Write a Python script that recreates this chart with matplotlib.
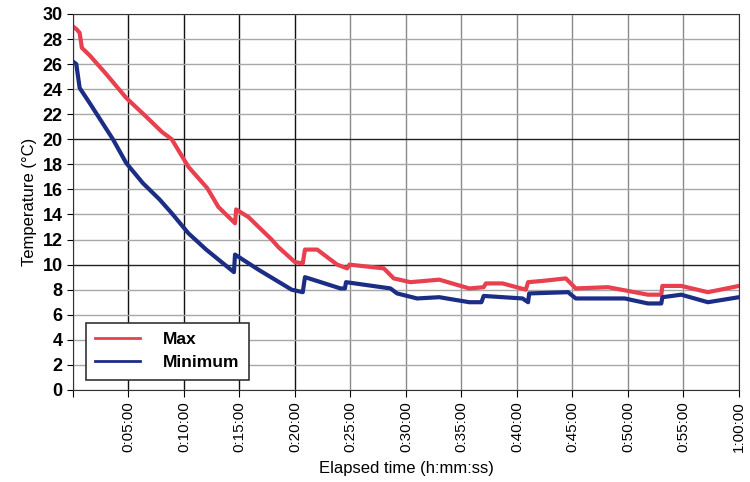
import matplotlib
matplotlib.use("Agg")
import matplotlib.pyplot as plt
from matplotlib.ticker import FuncFormatter

plt.rcParams['font.family'] = ['Liberation Sans', 'DejaVu Sans']

# elapsed minutes / temperature (degC)
max_t = [0.0, 0.3, 0.6, 0.8, 1.5, 3.0, 4.8, 6.6, 8.0, 8.9, 10.4, 12.1, 13.1, 14.6,
         14.7, 15.8, 17.9, 18.5, 20.0, 20.7, 20.9, 22.0, 23.8, 24.7, 24.9, 28.0,
         28.9, 30.4, 33.0, 35.7, 37.0, 37.2, 38.7, 40.8, 41.0, 42.3, 44.4, 45.3,
         48.2, 51.8, 53.0, 53.1, 54.8, 57.2, 60.0]
max_v = [29.0, 28.8, 28.5, 27.3, 26.7, 25.2, 23.3, 21.8, 20.6, 20.0, 17.8, 16.1, 14.6, 13.3,
         14.4, 13.8, 12.0, 11.4, 10.2, 10.1, 11.2, 11.2, 10.0, 9.7, 10.0, 9.7,
         8.9, 8.6, 8.8, 8.1, 8.2, 8.5, 8.5, 8.0, 8.6, 8.7, 8.9, 8.1,
         8.2, 7.6, 7.6, 8.3, 8.3, 7.8, 8.3]

min_t = [0.0, 0.3, 0.6, 1.5, 3.6, 4.8, 6.3, 7.8, 8.9, 10.4, 12.0, 14.5, 14.6, 16.7,
         19.7, 20.7, 20.9, 24.1, 24.5, 24.6, 28.6, 29.2, 31.0, 33.0, 35.7, 36.8,
         37.0, 40.5, 41.0, 41.1, 44.6, 45.3, 49.7, 51.8, 53.0, 53.1, 54.8, 57.2, 60.0]
min_v = [26.2, 26.0, 24.1, 22.9, 20.0, 18.1, 16.5, 15.2, 14.1, 12.5, 11.2, 9.4, 10.8, 9.6,
         8.0, 7.8, 9.0, 8.1, 8.1, 8.6, 8.1, 7.7, 7.3, 7.4, 7.0, 7.0,
         7.5, 7.3, 7.0, 7.7, 7.8, 7.3, 7.3, 6.9, 6.9, 7.4, 7.6, 7.0, 7.4]

fig = plt.figure(figsize=(7.5, 4.82), dpi=100)
ax = fig.add_axes([0.0973, 0.191, 0.888, 0.780])

ax.plot(max_t, max_v, color='#e8404f', lw=3, label='Max')
ax.plot(min_t, min_v, color='#1c2d85', lw=3, label='Minimum')

ax.set_xlim(0, 60)
ax.set_ylim(0, 30)
ax.set_xticks(range(0, 61, 5))
ax.set_yticks(range(0, 31, 2))

def hms(x, pos):
    m = int(round(x))
    if m == 0:
        return ''
    return '%d:%02d:00' % (m // 60, m % 60)

ax.xaxis.set_major_formatter(FuncFormatter(hms))
ax.tick_params(axis='x', labelrotation=90, labelsize=11, length=5, direction='out')
ax.tick_params(axis='y', labelsize=13, length=4, direction='out')
for lab in ax.get_yticklabels():
    lab.set_fontweight('bold')

ax.grid(True, lw=1.0)
for loc, g in zip(ax.get_xticks(), ax.get_xgridlines()):
    g.set_color('#111111' if 5 <= loc <= 20 else '#8a8a8a')
for loc, g in zip(ax.get_yticks(), ax.get_ygridlines()):
    g.set_color('#222222' if loc in (10, 20) else '#a8a8a8')
ax.set_axisbelow(True)

for s in ax.spines.values():
    s.set_color('#333333')

ax.set_ylabel('Temperature (°C)', fontsize=12, labelpad=4)
ax.set_xlabel('Elapsed time (h:mm:ss)', fontsize=12, labelpad=6)

leg = ax.legend(loc='lower left', bbox_to_anchor=(0.019, 0.027), borderaxespad=0,
                prop={'size': 12.5, 'weight': 'bold'},
                fancybox=False, framealpha=1, edgecolor='#333333',
                handlelength=2.6, handletextpad=1.3, borderpad=0.55, labelspacing=0.45)
leg.get_frame().set_linewidth(1.2)
for h in leg.get_lines():
    h.set_linewidth(2)

fig.savefig('out.png', dpi=100)
